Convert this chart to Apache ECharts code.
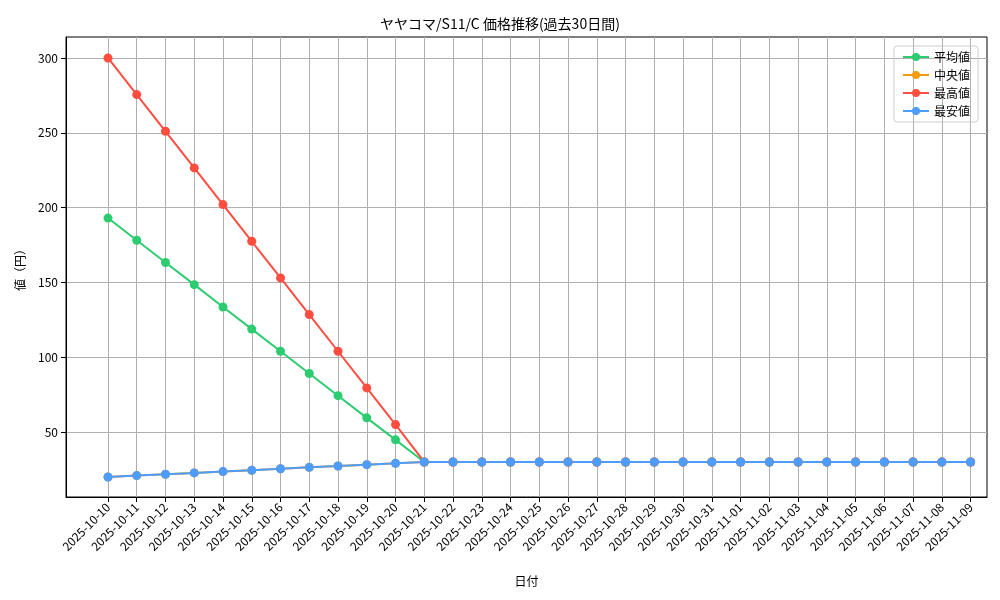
<!DOCTYPE html><html><head><meta charset="utf-8"><script src="https://cdn.jsdelivr.net/npm/echarts@6/dist/echarts.min.js"></script></head><body style="margin:0"><div id="c" style="width:1000px;height:600px"></div><script>
const dates=["2025-10-10","2025-10-11","2025-10-12","2025-10-13","2025-10-14","2025-10-15","2025-10-16","2025-10-17","2025-10-18","2025-10-19","2025-10-20","2025-10-21","2025-10-22","2025-10-23","2025-10-24","2025-10-25","2025-10-26","2025-10-27","2025-10-28","2025-10-29","2025-10-30","2025-10-31","2025-11-01","2025-11-02","2025-11-03","2025-11-04","2025-11-05","2025-11-06","2025-11-07","2025-11-08","2025-11-09"];
const flat=Array(19).fill(30);
const avgVals=[193,178.2,163.3,148.5,133.6,118.8,104,89.1,74.3,59.5,44.8,30].concat(flat);
const minVals=[20,20.9,21.8,22.7,23.6,24.5,25.5,26.4,27.3,28.2,29.1,30].concat(flat);
const medVals=minVals.slice();
const maxVals=[300,275.5,251,226.5,202,177.5,153,128.5,104,79.5,55,30].concat(flat);
const yTicks=[50,100,150,200,250,300];
const F='"Noto Sans CJK JP"';
const pts=a=>a.map((v,i)=>[i,v]);
const idx=dates.map((d,i)=>i);
const mk=(name,data,color)=>({name,type:'line',data:pts(data),color,symbol:'circle',symbolSize:9,lineStyle:{width:2},itemStyle:{color}});
const ch=echarts.init(document.getElementById('c'));
ch.setOption({animation:false,backgroundColor:'#fff',
title:{text:'ヤヤコマ/S11/C 価格推移(過去30日間)',left:'center',top:12,textStyle:{fontFamily:F,fontSize:14,fontWeight:'normal',color:'#000'}},
legend:{orient:'vertical',right:22,top:46,itemGap:6,borderColor:'#ccc',borderWidth:1,borderRadius:3,padding:[5,8],textStyle:{fontFamily:F,fontSize:12,color:'#000'},itemWidth:26,itemHeight:10},
grid:{left:66,right:13,top:37,bottom:103,containLabel:false,show:true,borderColor:'#000',borderWidth:1},
xAxis:{type:'value',min:-1.46,max:30.57,name:'日付',nameLocation:'middle',nameGap:78,nameTextStyle:{fontFamily:F,fontSize:12,color:'#000'},
 axisLine:{onZero:false,lineStyle:{color:'#000'}},axisTick:{customValues:idx,lineStyle:{color:'#000'}},
 axisLabel:{customValues:idx,rotate:45,fontFamily:F,fontSize:12,color:'#000',formatter:v=>dates[Math.round(v)]||''},
 splitLine:{show:true,lineStyle:{color:'#b0b0b0',width:1}}},
yAxis:{type:'value',min:6.6,max:314,name:'値（円）',nameLocation:'middle',nameGap:40,nameTextStyle:{fontFamily:F,fontSize:12,color:'#000'},
 axisLine:{show:true,onZero:false,lineStyle:{color:'#000'}},axisTick:{show:true,customValues:yTicks,lineStyle:{color:'#000'}},
 axisLabel:{customValues:yTicks,fontFamily:F,fontSize:12,color:'#000'},
 splitLine:{show:true,lineStyle:{color:'#b0b0b0',width:1}}},
series:[mk('平均値',avgVals,'#2ecc71'),mk('中央値',medVals,'#f39c12'),mk('最高値',maxVals,'#ff4d40'),mk('最安値',minVals,'#4d9cff')]});
</script></body></html>
